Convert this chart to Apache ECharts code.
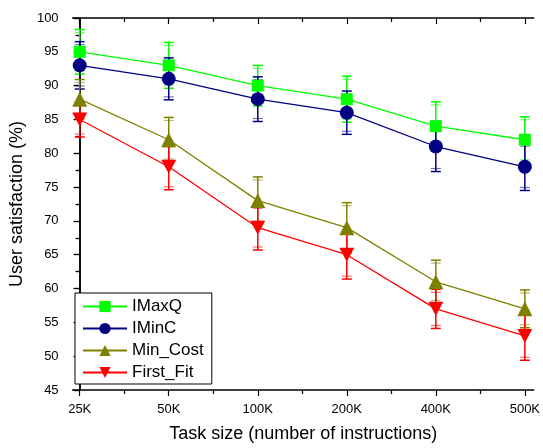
<!DOCTYPE html>
<html><head><meta charset="utf-8">
<script src="https://cdn.jsdelivr.net/npm/echarts@6/dist/echarts.min.js"></script>
<style>html,body{margin:0;padding:0;background:#fff}#c{width:543px;height:448px}</style>
</head><body><div id="c"></div>
<script>
var categories = ['25K', '50K', '100K', '200K', '400K', '500K'];
var seriesNames = ['IMaxQ', 'IMinC', 'Min_Cost', 'First_Fit'];
var imaxq = [95, 93, 90, 88, 84, 82];
var imaxqErr = [3.3, 3.4, 3.0, 3.4, 3.6, 3.4];
var iminc = [93, 91, 88, 86, 81, 78];
var imincErr = [3.5, 3.1, 3.3, 3.2, 3.7, 3.5];
var minCost = [88, 82, 73, 69, 61, 57];
var minCostErr = [2.9, 3.3, 3.5, 3.7, 3.2, 2.8];
var firstFit = [85, 78, 69, 65, 57, 53];
var firstFitErr = [2.6, 3.4, 3.3, 3.6, 2.9, 3.6];
var yTicks = [45, 50, 55, 60, 65, 70, 75, 80, 85, 90, 95, 100];

var colors = ['#00ff00', '#000080', '#808000', '#ff0000'];
var symbols = ['rect', 'circle', 'triangle', 'path://M0,0 L10,0 L5,9 Z'];
var sizes = [12, 14, 15, [15, 14]];
var values = [imaxq, iminc, minCost, firstFit];
var errs = [imaxqErr, imincErr, minCostErr, firstFitErr];

var font = 'Liberation Sans, Arial, sans-serif';
var xIdx = categories.map(function (c, i) { return i; });
var xMinor = xIdx.slice(0, -1).map(function (i) { return i + 0.5; });

function pts(arr) { return arr.map(function (v, i) { return [i, v]; }); }

var series = [];
values.forEach(function (vals, s) {
  var e = errs[s];
  series.push({
    type: 'custom', name: seriesNames[s] + '_err', xAxisIndex: 0, yAxisIndex: 0,
    data: vals.map(function (v, i) { return [i, v - e[i], v + e[i]]; }),
    renderItem: function (params, api) {
      var lo = api.coord([api.value(0), api.value(1)]);
      var hi = api.coord([api.value(0), api.value(2)]);
      var w = 5;
      var st = { stroke: colors[s], lineWidth: 1.5 };
      var st2 = { stroke: colors[s], lineWidth: 1.2, opacity: 0.55 };
      return { type: 'group', children: [
        { type: 'line', shape: { x1: lo[0], y1: lo[1], x2: hi[0], y2: hi[1] }, style: st },
        { type: 'line', shape: { x1: lo[0] - w, y1: lo[1], x2: lo[0] + w, y2: lo[1] }, style: st },
        { type: 'line', shape: { x1: hi[0] - w, y1: hi[1], x2: hi[0] + w, y2: hi[1] }, style: st },
        { type: 'line', shape: { x1: lo[0] - w, y1: lo[1] - 3, x2: lo[0] + w, y2: lo[1] - 3 }, style: st2 },
        { type: 'line', shape: { x1: hi[0] - w, y1: hi[1] + 3, x2: hi[0] + w, y2: hi[1] + 3 }, style: st2 }
      ]};
    },
    z: 2, silent: true
  });
});
values.forEach(function (vals, s) {
  series.push({
    type: 'line', name: seriesNames[s], xAxisIndex: 0, yAxisIndex: 0,
    data: pts(vals), symbol: symbols[s], symbolSize: sizes[s],
    itemStyle: { color: colors[s] }, lineStyle: { color: colors[s], width: 1.3 },
    z: 3, animation: false
  });
});

var chart = echarts.init(document.getElementById('c'), null, { renderer: 'canvas' });
chart.setOption({
  animation: false,
  backgroundColor: '#fff',
  grid: { left: 71, right: 8, top: 18, bottom: 55, containLabel: false },
  legend: {
    data: seriesNames, orient: 'vertical', left: 75, top: 293,
    backgroundColor: '#fff', borderColor: '#000', borderWidth: 1,
    padding: [5, 8, 3, 7], itemWidth: 44, itemHeight: 14, itemGap: 5,
    textStyle: { fontFamily: font, fontSize: 17, color: '#000' }
  },
  xAxis: [
    { type: 'value', position: 'bottom', min: -0.08, max: 5.1,
      name: 'Task size (number of instructions)', nameLocation: 'middle', nameGap: 35,
      nameTextStyle: { fontFamily: font, fontSize: 18, color: '#000' },
      axisLine: { show: true, lineStyle: { color: '#000', width: 1.5 } },
      axisTick: { show: true, customValues: xIdx, length: 6, lineStyle: { color: '#000', width: 1.2 } },
      axisLabel: { customValues: xIdx, formatter: function (v) { return categories[Math.round(v)]; },
        fontFamily: font, fontSize: 13, color: '#000', margin: 13 },
      splitLine: { show: false } },
    { type: 'value', position: 'bottom', min: -0.08, max: 5.1,
      axisLine: { show: false },
      axisTick: { show: true, customValues: xMinor, length: 4, lineStyle: { color: '#000', width: 1.2 } },
      axisLabel: { show: false }, splitLine: { show: false } },
    { type: 'value', position: 'top', min: -0.08, max: 5.1,
      axisLine: { show: true, lineStyle: { color: '#000', width: 1.5 } },
      axisTick: { show: true, inside: true, customValues: xIdx, length: 6, lineStyle: { color: '#000', width: 1.2 } },
      axisLabel: { show: false }, splitLine: { show: false } },
    { type: 'value', position: 'top', min: -0.08, max: 5.1,
      axisLine: { show: false },
      axisTick: { show: true, inside: true, customValues: xMinor, length: 4, lineStyle: { color: '#000', width: 1.2 } },
      axisLabel: { show: false }, splitLine: { show: false } }
  ],
  yAxis: [
    { type: 'value', position: 'left', min: 45, max: 100, interval: 5,
      name: 'User satisfaction (%)', nameLocation: 'middle', nameGap: 37,
      nameTextStyle: { fontFamily: font, fontSize: 18, color: '#000' },
      axisLine: { show: true, lineStyle: { color: '#000', width: 1.5 } },
      axisTick: { show: true, length: 6, lineStyle: { color: '#000', width: 1.2 } },
      minorTick: { show: true, splitNumber: 2, length: 4, lineStyle: { color: '#000', width: 1.2 } },
      axisLabel: { fontFamily: font, fontSize: 13, color: '#000', margin: 14,
        formatter: function (v) { return yTicks.indexOf(v) >= 0 ? String(v) : ''; } },
      splitLine: { show: false }, minorSplitLine: { show: false } },
    { type: 'value', position: 'right', min: 45, max: 100, interval: 5,
      axisLine: { show: true, lineStyle: { color: '#000', width: 1.5 } },
      axisTick: { show: true, inside: true, length: 6, lineStyle: { color: '#000', width: 1.2 } },
      minorTick: { show: true, splitNumber: 2, length: 4, lineStyle: { color: '#000', width: 1.2 } },
      axisLabel: { show: false }, splitLine: { show: false } }
  ],
  series: series
});
</script></body></html>
